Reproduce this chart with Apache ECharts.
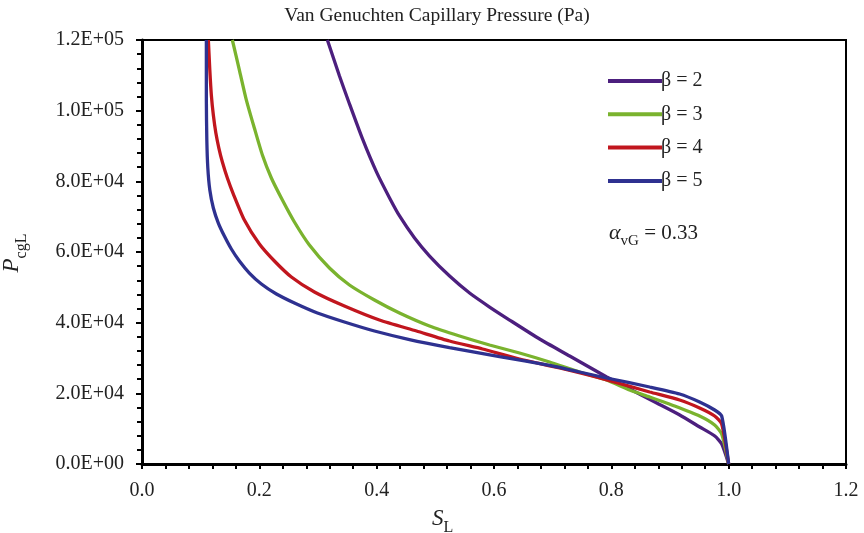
<!DOCTYPE html>
<html><head><meta charset="utf-8">
<script src="https://cdn.jsdelivr.net/npm/echarts@6/dist/echarts.min.js"></script>
<style>html,body{margin:0;padding:0;background:#fff}#c{width:864px;height:533px}</style>
</head><body><div id="c"></div>
<script>
var seriesNames = ['β = 2', 'β = 3', 'β = 4', 'β = 5'];
var seriesColors = ['#4C1F7E', '#7AB32E', '#C1161E', '#2E3190'];
// [S_L, P_cgL (Pa)]
var beta2 = [[0.316,120000],[0.3366,109800],[0.3537,101900],[0.3759,92000],[0.3998,82600],[0.4220,75300],[0.4390,70200],[0.4646,63960],[0.4902,58860],[0.5243,53200],[0.5584,48390],[0.5925,44430],[0.6266,40750],[0.6778,35370],[0.7290,30560],[0.7921,24620],[0.8313,21220],[0.8774,17260],[0.9166,13870],[0.9507,10470],[0.9763,7920],[0.9882,5660],[1.0,0]];
var beta3 = [[0.1540,120000],[0.1660,111500],[0.1779,103000],[0.1915,95090],[0.2052,87450],[0.2205,80940],[0.2393,74710],[0.2598,68490],[0.2853,61980],[0.3195,55470],[0.3536,50660],[0.3962,46410],[0.4389,42730],[0.4900,39050],[0.5412,36220],[0.5924,33680],[0.6435,31410],[0.6947,28870],[0.7459,26040],[0.7919,23770],[0.8311,20940],[0.8653,18960],[0.9079,16410],[0.9505,13580],[0.9761,11040],[0.9881,8490],[1.0,0]];
var beta4 = [[0.1131,120000],[0.1156,111500],[0.1182,104430],[0.1216,98770],[0.1259,93670],[0.1310,89430],[0.1370,85470],[0.1455,80940],[0.1557,76410],[0.1745,69050],[0.2001,62260],[0.2257,57450],[0.2546,52920],[0.2939,48680],[0.3450,44710],[0.4047,40750],[0.4679,37640],[0.5241,34810],[0.5804,32550],[0.6435,29720],[0.7118,27170],[0.7800,24340],[0.8653,20380],[0.9164,18110],[0.9505,15850],[0.9761,13580],[0.9881,11320],[1.0,0]];
var beta5 = [[0.1097,120000],[0.1097,103000],[0.1105,91690],[0.1122,83770],[0.1156,77540],[0.1216,72450],[0.1301,68200],[0.1404,64520],[0.1523,60850],[0.1660,57450],[0.1830,54050],[0.2035,50940],[0.2291,48110],[0.2598,45560],[0.2990,42730],[0.3450,40190],[0.3962,37640],[0.4559,35230],[0.5241,32970],[0.6094,30420],[0.6947,27880],[0.7459,26040],[0.7919,24340],[0.8653,21790],[0.9164,19810],[0.9505,17550],[0.9761,15280],[0.9881,13580],[1.0,0]];
var xTicks = [0, 0.2, 0.4, 0.6, 0.8, 1.0, 1.2];
var yTicks = [0, 20000, 40000, 60000, 80000, 100000, 120000];
var titleText = 'Van Genuchten Capillary Pressure (Pa)';
var alphaText = '0.33';

var FONT = '"Liberation Serif", "DejaVu Serif", serif';
function yFmt(v){
  var s = v.toExponential(1).toUpperCase();
  return s.replace(/E([+-])(\d)$/, 'E$10$2');
}
var dataSets = [beta2, beta3, beta4, beta5];
var series = dataSets.map(function(d, i){
  return {name: seriesNames[i], type: 'line', data: d, showSymbol: false, symbol: 'none',
    smooth: 0.2, xAxisIndex: 0, yAxisIndex: 0,
    lineStyle: {color: seriesColors[i], width: 3.3}, itemStyle: {color: seriesColors[i]}, z: 3 + i, clip: true};
});
var chart = echarts.init(document.getElementById('c'), null, {renderer: 'canvas'});
var baseX = {type: 'value', min: xTicks[0], max: xTicks[xTicks.length-1], interval: 0.2, splitLine: {show: false}};
var baseY = {type: 'value', min: yTicks[0], max: yTicks[yTicks.length-1], interval: 20000, splitLine: {show: false}};
chart.setOption({
  animation: false,
  backgroundColor: '#fff',
  title: {text: titleText, left: 432, textAlign: 'center', top: 1,
    textStyle: {fontFamily: FONT, fontSize: 19.5, fontWeight: 'normal', color: '#222'}},
  grid: {left: 142, right: 18, top: 40, bottom: 69, show: true, borderColor: '#000', borderWidth: 2, backgroundColor: 'transparent'},
  legend: {orient: 'vertical', left: 603, top: 66, itemWidth: 54, itemHeight: 4, itemGap: 13.3, icon: 'rect',
    data: seriesNames, textStyle: {fontFamily: FONT, fontSize: 20, color: '#222', padding: [0,0,0,-6]}},
  xAxis: [
    Object.assign({}, baseX, {axisLine: {show: true, lineStyle: {color: '#000', width: 3}},
      axisTick: {show: true, inside: false, length: 5, lineStyle: {color: '#000', width: 2}},
      axisLabel: {fontFamily: FONT, fontSize: 20, color: '#222', margin: 17, formatter: function(v){return v.toFixed(1);}}}),
    Object.assign({}, baseX, {axisLine: {show: false}, axisLabel: {show: false},
      axisTick: {show: true, inside: true, length: 5, lineStyle: {color: '#000', width: 2}},
      minorTick: {show: true, splitNumber: 5, length: 5, lineStyle: {color: '#000', width: 2}}})
  ],
  yAxis: [
    Object.assign({}, baseY, {axisLine: {show: true, lineStyle: {color: '#000', width: 3}},
      axisTick: {show: true, inside: false, length: 6, lineStyle: {color: '#000', width: 2}},
      axisLabel: {fontFamily: FONT, fontSize: 20, color: '#222', margin: 18, formatter: yFmt}}),
    Object.assign({}, baseY, {axisLine: {show: false}, axisLabel: {show: false},
      axisTick: {show: true, inside: true, length: 5, lineStyle: {color: '#000', width: 2}},
      minorTick: {show: true, splitNumber: 5, length: 5, lineStyle: {color: '#000', width: 2}}})
  ],
  graphic: [
    {type: 'text', left: 609, top: 222, style: {
      text: '{a|α}{s|vG}{t| = ' + alphaText + '}',
      rich: {a: {fontFamily: FONT, fontStyle: 'italic', fontSize: 22, fill: '#222', verticalAlign: 'bottom'},
        s: {fontFamily: FONT, fontSize: 15, fill: '#222', verticalAlign: 'bottom', padding: [0,0,-5,0]},
        t: {fontFamily: FONT, fontSize: 21, fill: '#222', verticalAlign: 'bottom'}}}},
    {type: 'text', left: 432, top: 507, style: {
      text: '{a|S}{s|L}',
      rich: {a: {fontFamily: FONT, fontStyle: 'italic', fontSize: 23, fill: '#222', verticalAlign: 'bottom'},
        s: {fontFamily: FONT, fontSize: 16, fill: '#222', verticalAlign: 'bottom', padding: [0,0,-6,0]}}}},
    {type: 'text', x: 12, y: 253, rotation: Math.PI/2, style: {
      text: '{a|P}{s|cgL}', align: 'center', verticalAlign: 'middle',
      rich: {a: {fontFamily: FONT, fontStyle: 'italic', fontSize: 23, fill: '#222', verticalAlign: 'bottom'},
        s: {fontFamily: FONT, fontSize: 16, fill: '#222', verticalAlign: 'bottom', padding: [0,0,-6,0]}}}}
  ],
  series: series
});
</script></body></html>
